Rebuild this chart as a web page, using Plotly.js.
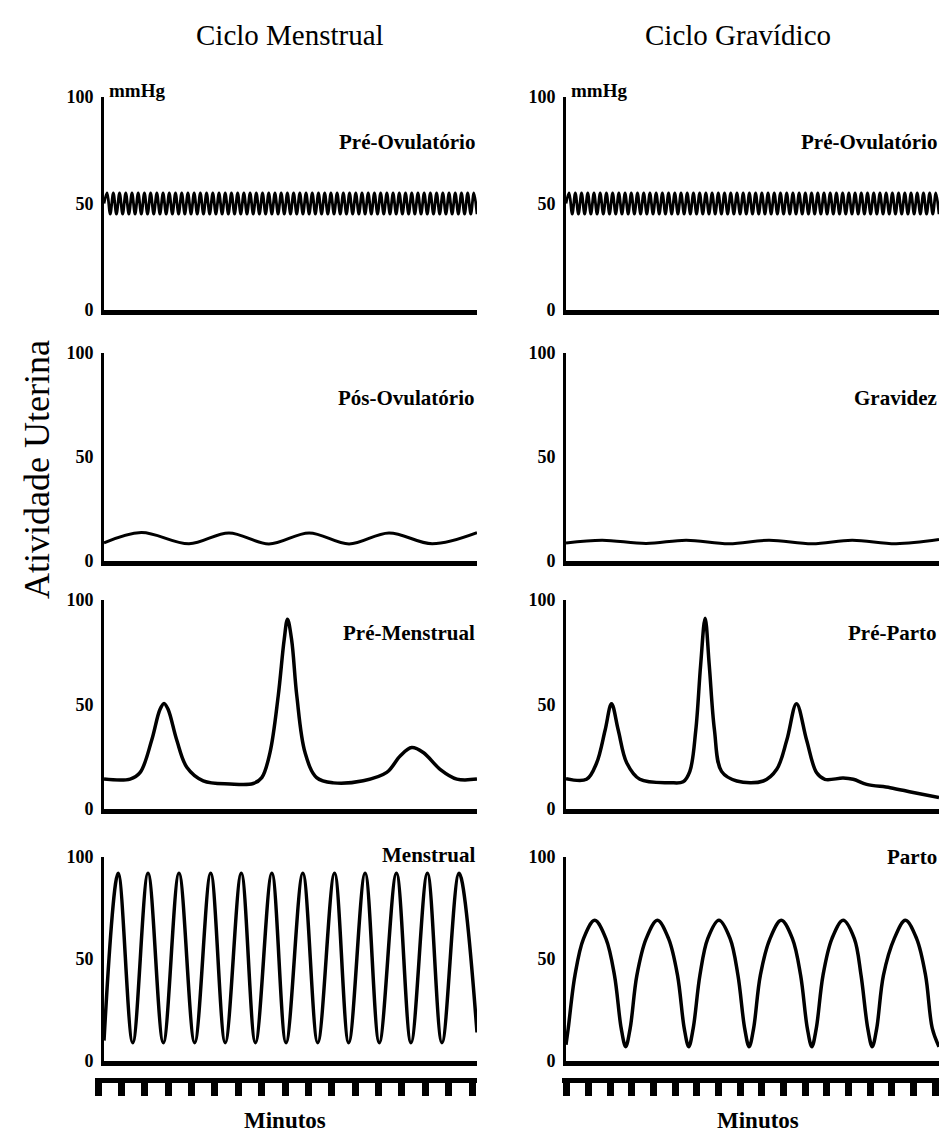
<!DOCTYPE html>
<html><head><meta charset="utf-8">
<script src="https://cdn.plot.ly/plotly-3.0.1.min.js"></script>
<style>html,body{margin:0;padding:0;background:#fff}#chart{width:941px;height:1136px}</style>
</head><body><div id="chart"></div>
<script>
// ---------- DATA (minutes on x, mmHg on y) ----------
const yTickVals = [0, 50, 100];
const yTickText = ['0', '50', '100'];

// Pré-Ovulatório (both cycles): fast low-amplitude oscillation around 50 mmHg
const preOvMX = [0,1,2,3,4,5,6,7,8,9,10,11,12,13,14,15,16,17,18,19,20,21,22,23,24,25,26,27,28,29,30,31,32,33,34,35,36,37,38,39,40,41,42,43,44,45,46,47,48,49,50,51,52,53,54,55,56,57,58,59,60,61,62,63,64,65,66,67,68,69,70,71,72,73,74,75,76,77,78,79,80,81,82,83,84,85,86,87,88,89,90,91,92,93,94,95,96,97,98,99,100,101,102,103,104,105,106,107,108,109,110,111,112,113,114,115,116,117,118,119,120];
const preOvMY = [50,
 55,45,55,45,55,45,55,45,55,45,55,45,55,45,55,45,55,45,55,45,
 55,45,55,45,55,45,55,45,55,45,55,45,55,45,55,45,55,45,55,45,
 55,45,55,45,55,45,55,45,55,45,55,45,55,45,55,45,55,45,55,45,
 55,45,55,45,55,45,55,45,55,45,55,45,55,45,55,45,55,45,55,45,
 55,45,55,45,55,45,55,45,55,45,55,45,55,45,55,45,55,45,55,45,
 55,45,55,45,55,45,55,45,55,45,55,45,55,45,55,45,55,45,55,45];
const preOvGX = [0,1,2,3,4,5,6,7,8,9,10,11,12,13,14,15,16,17,18,19,20,21,22,23,24,25,26,27,28,29,30,31,32,33,34,35,36,37,38,39,40,41,42,43,44,45,46,47,48,49,50,51,52,53,54,55,56,57,58,59,60,61,62,63,64,65,66,67,68,69,70,71,72,73,74,75,76,77,78,79,80,81,82,83,84,85,86,87,88,89,90,91,92,93,94,95,96,97,98,99,100,101,102,103,104,105,106,107,108,109,110,111,112,113,114,115,116,117,118,119,120];
const preOvGY = [50,
 55,45,55,45,55,45,55,45,55,45,55,45,55,45,55,45,55,45,55,45,
 55,45,55,45,55,45,55,45,55,45,55,45,55,45,55,45,55,45,55,45,
 55,45,55,45,55,45,55,45,55,45,55,45,55,45,55,45,55,45,55,45,
 55,45,55,45,55,45,55,45,55,45,55,45,55,45,55,45,55,45,55,45,
 55,45,55,45,55,45,55,45,55,45,55,45,55,45,55,45,55,45,55,45,
 55,45,55,45,55,45,55,45,55,45,55,45,55,45,55,45,55,45,55,45];

// Pós-Ovulatório
const posOvX = [0, 10, 22.8, 33.5, 44.2, 55, 65.7, 76.4, 88, 100];
const posOvY = [8.7, 13.7, 8.3, 13.5, 8.2, 13.5, 8.2, 13.5, 8.3, 13.6];

// Gravidez
const gravX = [0, 9.7, 21.5, 32.2, 43.7, 54.4, 66, 76.7, 88.5, 100];
const gravY = [8.7, 10, 8.4, 10, 8.3, 10, 8.3, 10, 8.3, 10.3];

// Pré-Menstrual
const preMenX = [0, 7.0, 9.7, 12.8, 15.0, 16.1, 17.2, 19.5, 22.2, 26.6, 33.8, 40.0, 42.3, 44.5, 46.7, 48.3, 49.2, 50.3, 51.7, 53.9, 57.0, 61.5, 69.5, 75.8, 79.4, 82.5, 85.6, 90.1, 94.6, 100];
const preMenY = [14.3, 14.3, 17.5, 33, 47.6, 50.5, 47.6, 33, 20, 13.5, 12, 12.2, 15, 27, 54, 81, 90.8, 81, 54, 27, 15, 12.5, 13.5, 17.5, 25.4, 29.4, 27, 19, 14.3, 14.3];

// Pré-Parto
const prePartoX = [0, 5.5, 8.2, 10.5, 12.2, 14.0, 16.3, 19.8, 27.9, 31.4, 33.2, 34.8, 36.1, 37.3, 38.4, 39.8, 41.7, 45.8, 52.9, 56.5, 59.2, 61.8, 64.5, 67.2, 69.4, 74.3, 77.0, 80.6, 86.9, 93.1, 100];
const prePartoY = [14.5, 14.2, 22, 37.8, 50.4, 37.8, 22, 14.2, 12.6, 13, 18, 37.8, 69, 91.3, 69, 37.8, 18, 13.4, 13.4, 19, 33, 50.4, 33, 17.3, 14.2, 14.8, 14.2, 11.8, 10.2, 7.9, 5.5];

// Menstrual
const menX = [0, 3.8, 7.7, 11.8, 15.9, 20.1, 24.3, 28.6, 32.5, 36.8, 40.6, 45, 48.8, 53.3, 57.3, 61.8, 65.6, 70, 73.8, 78.4, 82.3, 86.7, 90.6, 95.2, 100];
const menY = [10, 92, 9, 92, 9, 92, 9, 92, 9, 92, 9, 92, 9, 92, 9, 92, 9, 92, 9, 92, 9, 92, 9, 92, 14];

// Parto
const partoX = [0, 0.6, 2.4, 4.7, 7.7, 10.7, 13, 14.8, 16, 17.2, 19, 21.5, 24.5, 27.5, 29.9, 31.7, 32.9, 34.1, 35.9, 38, 41, 44, 46.1, 47.9, 49.1, 50.3, 52.1, 54.7, 57.7, 60.7, 62.9, 64.7, 65.9, 67.1, 68.9, 71.3, 74.3, 77.3, 79.1, 80.9, 82.1, 83.3, 85.1, 88, 91, 94, 96.4, 98.2, 100];
const partoY = [8, 16, 42, 60, 69, 60, 42, 16, 7, 16, 42, 60, 69, 60, 42, 16, 7, 16, 42, 60, 69, 60, 42, 16, 7, 16, 42, 60, 69, 60, 42, 16, 7, 16, 42, 60, 69, 60, 42, 16, 7, 16, 42, 60, 69, 60, 42, 16, 7];

// Minute marks (comb under bottom panels)
const minuteTicksM = [0,1,2,3,4,5,6,7,8,9,10,11,12,13,14,15,16];
const minuteTicksG = [0,1,2,3,4,5,6,7,8,9,10,11,12,13,14,15,16,17];

const colTitles = ['Ciclo Menstrual', 'Ciclo Gravídico'];
const yTitle = 'Atividade Uterina';
const xTitle = 'Minutos';
const unitLabel = 'mmHg';

// ---------- LAYOUT ----------
const W = 941, H = 1136;
const FONT = 'Liberation Serif, "Times New Roman", serif';
const colDom = [[104/W, 477/W], [566/W, 939/W]];
const rowDom = [[1-310/H, 1-97/H], [1-561/H, 1-353/H], [1-809/H, 1-600/H], [1-1061/H, 1-857/H]];
const labelY = [[142, 142], [398, 398], [633, 633], [855, 857]];

const panels = [
  {x: preOvMX, y: preOvMY, r: 0, c: 0, label: 'Pré-Ovulatório', w: 2.8, s: 1},
  {x: preOvGX, y: preOvGY, r: 0, c: 1, label: 'Pré-Ovulatório', w: 2.8, s: 1},
  {x: posOvX, y: posOvY, r: 1, c: 0, label: 'Pós-Ovulatório', w: 3, s: 1},
  {x: gravX, y: gravY, r: 1, c: 1, label: 'Gravidez', w: 3, s: 1},
  {x: preMenX, y: preMenY, r: 2, c: 0, label: 'Pré-Menstrual', w: 3.5, s: 1},
  {x: prePartoX, y: prePartoY, r: 2, c: 1, label: 'Pré-Parto', w: 3.5, s: 1},
  {x: menX, y: menY, r: 3, c: 0, label: 'Menstrual', w: 3.5, s: 1},
  {x: partoX, y: partoY, r: 3, c: 1, label: 'Parto', w: 3.5, s: 1}
];

const data = [];
const layout = {
  width: W, height: H,
  margin: {l: 0, r: 0, t: 0, b: 0},
  paper_bgcolor: '#fff', plot_bgcolor: '#fff',
  showlegend: false,
  font: {family: FONT, color: '#000'},
  annotations: []
};

panels.forEach((p, i) => {
  const n = i + 1;
  const xid = n === 1 ? 'x' : 'x' + n;
  const yid = n === 1 ? 'y' : 'y' + n;
  data.push({
    type: 'scatter', mode: 'lines', x: p.x, y: p.y,
    xaxis: xid, yaxis: yid,
    line: {color: '#000', width: p.w, shape: 'spline', smoothing: p.s},
    hoverinfo: 'skip'
  });
  layout[n === 1 ? 'xaxis' : 'xaxis' + n] = {
    domain: colDom[p.c], anchor: yid, range: [0, p.x[p.x.length - 1]],
    showline: true, linewidth: 5, linecolor: '#000',
    showticklabels: false, ticks: '', showgrid: false, zeroline: false, fixedrange: true
  };
  layout[n === 1 ? 'yaxis' : 'yaxis' + n] = {
    domain: rowDom[p.r], anchor: xid, range: [0, 100],
    tickmode: 'array', tickvals: yTickVals, ticktext: yTickText,
    showline: true, linewidth: 3, linecolor: '#000',
    ticks: '', showgrid: false, zeroline: false, fixedrange: true,
    ticklabelstandoff: 4,
    tickfont: {family: FONT, size: 18, color: '#000', weight: 'bold'}
  };
  layout.annotations.push({
    xref: 'paper', yref: 'paper',
    x: colDom[p.c][1], y: 1 - labelY[p.r][p.c] / H,
    xanchor: 'right', yanchor: 'middle', showarrow: false,
    text: '<b>' + p.label + '</b>',
    font: {family: FONT, size: 21, color: '#000'}
  });
});

// minute comb axes
[[minuteTicksM, [95/W, 477/W], [-0.13, 16.21]], [minuteTicksG, [562/W, 939/W], [-0.23, 17.18]]].forEach((cfg, k) => {
  const n = 9 + k;
  data.push({
    type: 'scatter', mode: 'markers', x: cfg[0], y: cfg[0].map(() => 0.5),
    xaxis: 'x' + n, yaxis: 'y' + n, marker: {size: 1, opacity: 0}, hoverinfo: 'skip'
  });
  layout['xaxis' + n] = {
    domain: cfg[1], anchor: 'free', position: 1 - 1080/H, range: cfg[2],
    tickmode: 'array', tickvals: cfg[0], ticks: 'outside', ticklen: 13, tickwidth: 7, tickcolor: '#000',
    showline: true, linewidth: 5, linecolor: '#000',
    showticklabels: false, showgrid: false, zeroline: false, fixedrange: true
  };
  layout['yaxis' + n] = {domain: [0, 0.03], anchor: 'x' + n, range: [0, 1], visible: false, fixedrange: true};
});

// column titles, axis titles, unit labels
layout.annotations.push(
  {xref: 'paper', yref: 'paper', x: 290/W, y: 1 - 35/H, xanchor: 'center', yanchor: 'middle', showarrow: false,
   text: colTitles[0], font: {family: FONT, size: 29, color: '#000'}},
  {xref: 'paper', yref: 'paper', x: 738/W, y: 1 - 35/H, xanchor: 'center', yanchor: 'middle', showarrow: false,
   text: colTitles[1], font: {family: FONT, size: 29, color: '#000'}},
  {xref: 'paper', yref: 'paper', x: 37/W, y: 1 - 470/H, xanchor: 'center', yanchor: 'middle', showarrow: false,
   textangle: -90, text: yTitle, font: {family: FONT, size: 36, color: '#000'}},
  {xref: 'paper', yref: 'paper', x: 107/W, y: 1 - 91/H, xanchor: 'left', yanchor: 'middle', showarrow: false,
   text: '<b>' + unitLabel + '</b>', font: {family: FONT, size: 19, color: '#000'}},
  {xref: 'paper', yref: 'paper', x: 569/W, y: 1 - 91/H, xanchor: 'left', yanchor: 'middle', showarrow: false,
   text: '<b>' + unitLabel + '</b>', font: {family: FONT, size: 19, color: '#000'}},
  {xref: 'paper', yref: 'paper', x: 285/W, y: 1 - 1120/H, xanchor: 'center', yanchor: 'middle', showarrow: false,
   text: '<b>' + xTitle + '</b>', font: {family: FONT, size: 23, color: '#000'}},
  {xref: 'paper', yref: 'paper', x: 758/W, y: 1 - 1120/H, xanchor: 'center', yanchor: 'middle', showarrow: false,
   text: '<b>' + xTitle + '</b>', font: {family: FONT, size: 23, color: '#000'}}
);

Plotly.newPlot('chart', data, layout, {displayModeBar: false, staticPlot: true});
</script></body></html>
